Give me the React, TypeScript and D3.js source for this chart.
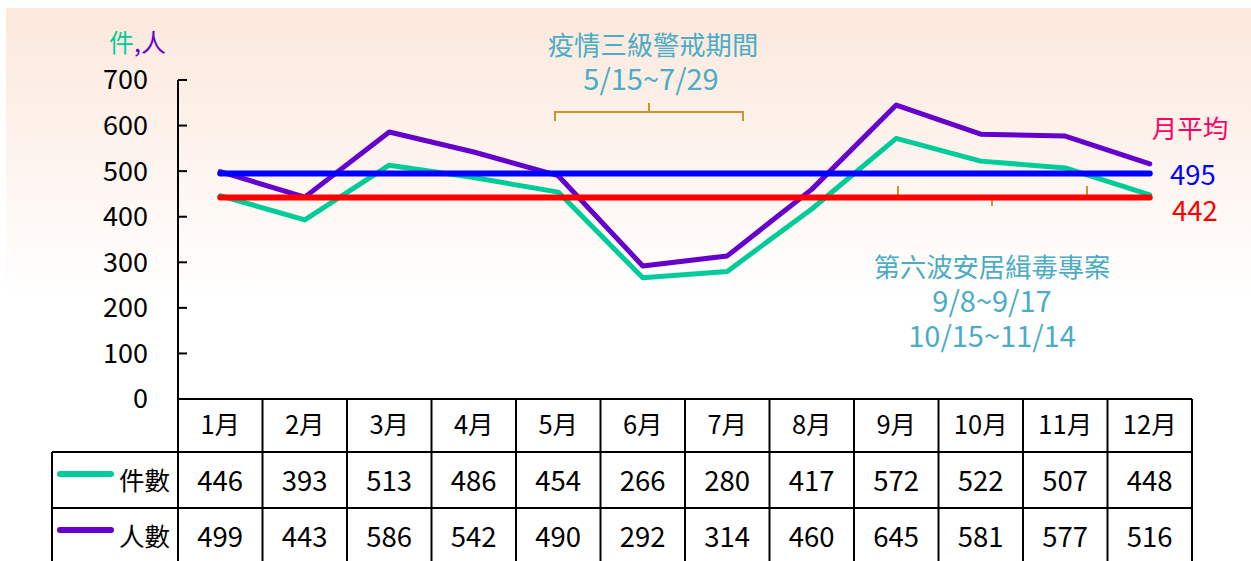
import React from "react";
import * as d3 from "d3";

const months = ["1月","2月","3月","4月","5月","6月","7月","8月","9月","10月","11月","12月"];
const cases = [446,393,513,486,454,266,280,417,572,522,507,448];
const people = [499,443,586,542,490,292,314,460,645,581,577,516];
const avgPeople = 495;
const avgCases = 442;
const yTicks = [0,100,200,300,400,500,600,700];
const seriesNames = ["件數","人數"];

const W = 1251, H = 561;
const FONT = "'Noto Sans CJK TC', 'Noto Sans', sans-serif";
const ANNO = "#4BACC6";
const BRACKET = "#C9962B";
const C_CASES = "#00CC99";
const C_PEOPLE = "#6600CC";

export default function App() {
  const x = d3.scaleBand<string>().domain(months).range([178, 1192]);
  const y = d3.scaleLinear().domain([0, 700]).range([399, 80]);
  const cx = (i: number) => (x(months[i]) as number) + x.bandwidth() / 2;
  const line = d3.line<number>().x((_, i) => cx(i)).y((d) => y(d));
  const rowTop = [399, 452, 508];
  const rowH = [53, 56, 56];
  const x0 = cx(0), x1 = cx(months.length - 1);
  const bw = x.bandwidth();

  const b1 = { l: 555, r: 743, m: 649, y: 112 };
  const b2 = { l: 898, r: 1087, m: 992, y: 196 };

  return (
    <svg width={W} height={H} style={{ position: "absolute", left: 0, top: 0, display: "block" }} fontFamily={FONT}>
      <defs>
        <linearGradient id="bg" x1="0" y1="0" x2="0" y2="1">
          <stop offset="0" stopColor="#FCE8DC" />
          <stop offset="1" stopColor="#FFFFFF" />
        </linearGradient>
      </defs>
      <rect x={0} y={0} width={W} height={H} fill="#fff" />
      <rect x={6} y={8} width={W - 6} height={290} fill="url(#bg)" />

      <text x={109} y={52} fontSize={25}>
        <tspan fill={C_CASES}>件</tspan>
        <tspan fill={C_PEOPLE}>,人</tspan>
      </text>

      <line x1={178} x2={178} y1={y(700)} y2={H} stroke="#000" strokeWidth={2} />
      {yTicks.map((t) => (
        <g key={t}>
          <line x1={178} x2={187} y1={y(t)} y2={y(t)} stroke="#000" strokeWidth={2} />
          <text x={148} y={y(t)} dy="0.35em" textAnchor="end" fontSize={27} fill="#000">{t}</text>
        </g>
      ))}

      <line x1={178} x2={1192} y1={399} y2={399} stroke="#000" strokeWidth={2} />
      <line x1={52} x2={1192} y1={452} y2={452} stroke="#000" strokeWidth={2} />
      <line x1={52} x2={1192} y1={508} y2={508} stroke="#000" strokeWidth={2} />
      <line x1={52} x2={52} y1={452} y2={H} stroke="#000" strokeWidth={2} />
      {months.map((m) => (
        <line key={m} x1={(x(m) as number) + bw} x2={(x(m) as number) + bw} y1={399} y2={H} stroke="#000" strokeWidth={2} />
      ))}
      {months.map((m, i) => (
        <text key={m} x={cx(i)} y={rowTop[0] + rowH[0] / 2} dy="0.35em" textAnchor="middle" fontSize={25.5} fill="#000">{m}</text>
      ))}
      {[cases, people].map((arr, r) =>
        arr.map((v, i) => (
          <text key={r + "-" + i} x={cx(i)} y={rowTop[r + 1] + rowH[r + 1] / 2 + 1} dy="0.35em" textAnchor="middle" fontSize={27.5} fill="#000">{v}</text>
        ))
      )}
      {seriesNames.map((s, r) => (
        <g key={s}>
          <line x1={60} x2={111} y1={rowTop[r + 1] + 22} y2={rowTop[r + 1] + 22} stroke={r === 0 ? C_CASES : C_PEOPLE} strokeWidth={6} strokeLinecap="round" />
          <text x={170} y={rowTop[r + 1] + rowH[r + 1] / 2 + 1} dy="0.35em" textAnchor="end" fontSize={25.5} fill="#000">{s}</text>
        </g>
      ))}

      <path d={line(cases) as string} fill="none" stroke={C_CASES} strokeWidth={5} strokeLinejoin="round" strokeLinecap="round" />
      <path d={line(people) as string} fill="none" stroke={C_PEOPLE} strokeWidth={5} strokeLinejoin="round" strokeLinecap="round" />

      <path d={`M${b2.l},${b2.y - 10} L${b2.l},${b2.y} L${b2.r},${b2.y} L${b2.r},${b2.y - 10} M${b2.m},${b2.y} L${b2.m},${b2.y + 10}`} fill="none" stroke={BRACKET} strokeWidth={2} />

      <line x1={x0} x2={x1} y1={y(avgPeople)} y2={y(avgPeople)} stroke="#0000FF" strokeWidth={6} strokeLinecap="round" />
      <line x1={x0} x2={x1} y1={y(avgCases)} y2={y(avgCases)} stroke="#FF0000" strokeWidth={6} strokeLinecap="round" />

      <text x={1190} y={138} textAnchor="middle" fontSize={25.5} fill="#FF0066">月平均</text>
      <text x={1193} y={y(avgPeople) + 2} dy="0.35em" textAnchor="middle" fontSize={27.5} fill="#0000FF">{avgPeople}</text>
      <text x={1195} y={y(avgCases) + 14} dy="0.35em" textAnchor="middle" fontSize={27.5} fill="#FF0000">{avgCases}</text>

      <text x={653} y={46} dy="0.35em" textAnchor="middle" fontSize={26.3} fill={ANNO}>疫情三級警戒期間</text>
      <text x={651} y={80} dy="0.35em" textAnchor="middle" fontSize={29} fill={ANNO}>5/15~7/29</text>
      <path d={`M${b1.l},${b1.y + 9} L${b1.l},${b1.y} L${b1.r},${b1.y} L${b1.r},${b1.y + 9} M${b1.m},${b1.y} L${b1.m},${b1.y - 9}`} fill="none" stroke={BRACKET} strokeWidth={2} />

      <text x={992} y={268} dy="0.35em" textAnchor="middle" fontSize={26.3} fill={ANNO}>第六波安居緝毒專案</text>
      <text x={992} y={302} dy="0.35em" textAnchor="middle" fontSize={29} fill={ANNO}>9/8~9/17</text>
      <text x={992} y={337} dy="0.35em" textAnchor="middle" fontSize={29} fill={ANNO}>10/15~11/14</text>
    </svg>
  );
}
